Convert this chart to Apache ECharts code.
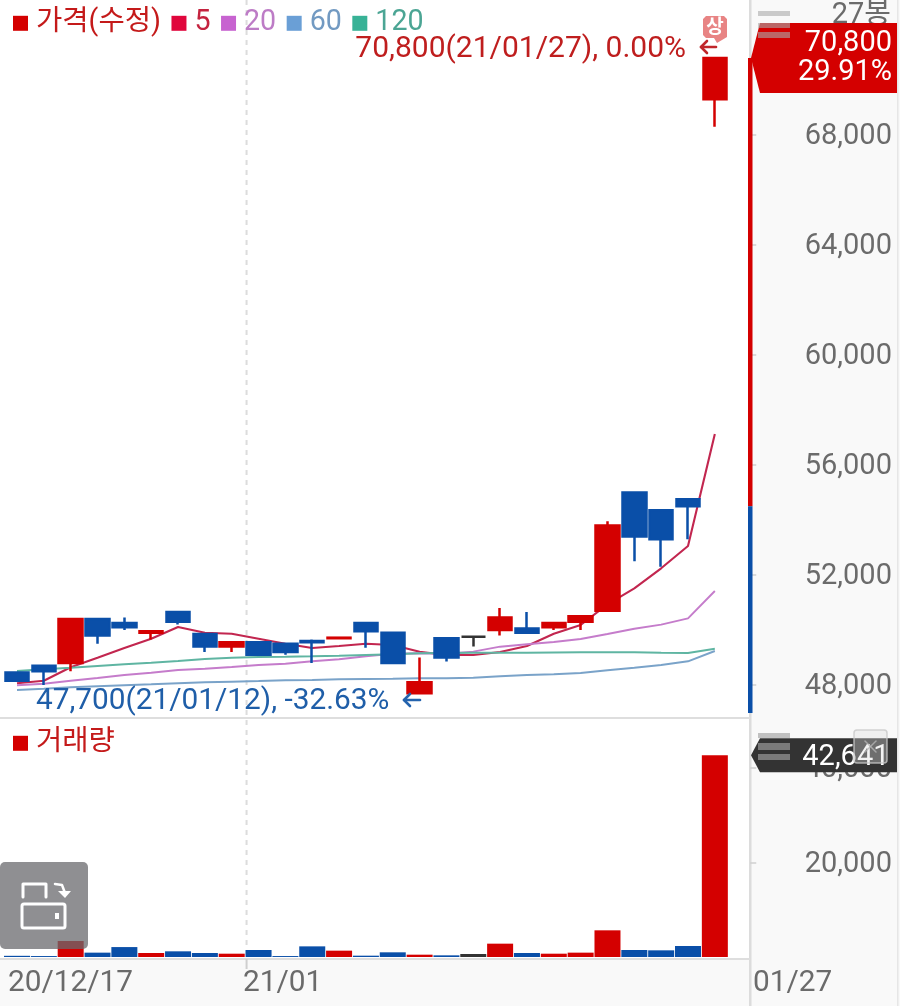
<!DOCTYPE html>
<html><head><meta charset="utf-8">
<style>html,body{margin:0;padding:0;background:#fff;overflow:hidden}#c{width:900px;height:1006px}</style>
<script src="https://cdn.jsdelivr.net/npm/echarts@6/dist/echarts.min.js"></script>
</head><body><div id="c"></div>
<script>
const categories=['20/12/17','20/12/18','20/12/21','20/12/22','20/12/23','20/12/24','20/12/28','20/12/29','20/12/30','21/01/04','21/01/05','21/01/06','21/01/07','21/01/08','21/01/11','21/01/12','21/01/13','21/01/14','21/01/15','21/01/18','21/01/19','21/01/20','21/01/21','21/01/22','21/01/25','21/01/26','21/01/27'];
const opens =[48450,48700,48800,50400,50250,49900,50650,49850,49400,49550,49500,49600,49700,50250,49900,47700,49700,49750,50000,50050,50100,50300,50700,55000,54350,54750,69300];
const closes=[48150,48500,50400,49800,50100,49950,50300,49400,49550,49100,49200,49550,49720,49950,48800,48100,49000,49750,50450,49900,50250,50500,53800,53400,53300,54500,70800];
const lows  =[48150,48000,48500,49500,50000,49650,50200,49200,49200,49050,49100,48800,49700,49350,48750,47700,48850,49400,49800,49900,50000,50000,50700,52500,52300,53300,68300];
const highs =[48450,48700,50400,50400,50450,49950,50650,49850,49550,49550,49500,49650,49720,50250,49900,49000,49700,49750,50800,50650,50250,50500,53950,55000,54350,54750,70800];
const ma5  =[48062,48156,48644,48993,49345,49683,50109,49902,49865,49683,49502,49345,49418,49502,49454,49211,49091,49091,49200,49418,49865,50182,50934,51516,52243,53054,57126];
const ma20 =[47989,48047,48156,48255,48364,48447,48545,48593,48654,48727,48774,48862,48934,49044,49138,49153,49138,49211,49393,49480,49563,49673,49854,50047,50193,50425,51418];
const ma60 =[47818,47865,47916,47953,47989,48025,48062,48098,48120,48145,48171,48182,48207,48218,48229,48244,48244,48265,48316,48364,48389,48436,48534,48629,48727,48862,49236];
const ma120=[48509,48571,48629,48691,48753,48811,48873,48945,48993,49018,49029,49044,49065,49091,49116,49153,49164,49175,49175,49175,49182,49189,49189,49189,49175,49164,49320];
const volumes=[250,200,3380,920,2100,850,1200,850,700,1480,200,2250,1340,280,990,490,350,630,2820,850,700,920,5640,1480,1410,2330,42641];
const priceTicks=[48000,52000,56000,60000,64000,68000];
const volumeTicks=[20000,40000];
const dateLabels=[['20/12/17',8],['21/01/04',243,'21/01'],['21/01/27',753,'01/27']];
const rangeBar=[70800,54500,46980];

const RED='#d40000',BLUE='#0a4fa8',DARK='#333333',GREY='#6b6b6b';
const FONT='Roboto,"Noto Sans CJK KR",sans-serif';
const fmt=v=>Number(v).toLocaleString('en-US');
const candle=categories.map((_,i)=>[opens[i],closes[i],lows[i],highs[i]]);
const volData=volumes.map((v,i)=>({value:v,itemStyle:{color:closes[i]>opens[i]?RED:closes[i]<opens[i]?BLUE:DARK}}));
const yAxisCommon={type:'value',position:'right',offset:22,splitLine:{show:false},axisLine:{show:false},
  axisLabel:{align:'right',verticalAlign:'top',lineHeight:4,margin:141.7,color:GREY,fontSize:29,fontFamily:FONT,formatter:fmt}};
const line=(name,data,color,w)=>({name,type:'line',data,xAxisIndex:0,yAxisIndex:0,symbol:'none',smooth:false,z:2,silent:true,lineStyle:{color,width:w}});
const legendText=(c)=>({color:c,fontSize:28.6,fontFamily:FONT,padding:[0,0,0,3]});
const option={
  animation:false,backgroundColor:'#ffffff',
  legend:[{left:13,top:9,itemWidth:15,itemHeight:15,itemGap:10.5,padding:0,selectedMode:false,
    data:[
      {name:'가격(수정)',icon:'rect',itemStyle:{color:RED,borderWidth:0},textStyle:legendText('#c41a1a')},
      {name:'5',icon:'rect',itemStyle:{color:'#e0063c'},textStyle:legendText('#c4233f')},
      {name:'20',icon:'rect',itemStyle:{color:'#c763d0'},textStyle:legendText('#bd7cc6')},
      {name:'60',icon:'rect',itemStyle:{color:'#6a9fd6'},textStyle:legendText('#729ac2')},
      {name:'120',icon:'rect',itemStyle:{color:'#38b296'},textStyle:legendText('#4ba594')}]},
    {left:13,top:729,itemWidth:15,itemHeight:15,padding:0,selectedMode:false,
     data:[{name:'거래량',icon:'rect',itemStyle:{color:RED},textStyle:legendText('#c41a1a')}]}],
  grid:[{left:3.58,width:724.68,top:1,height:716},{left:3.58,width:724.68,top:718,height:239}],
  xAxis:[{type:'category',gridIndex:0,data:categories,boundaryGap:true,axisLine:{show:false},axisTick:{show:false},axisLabel:{show:false}},
         {type:'category',gridIndex:1,data:categories,boundaryGap:true,axisLine:{show:false},axisTick:{show:false},axisLabel:{show:false}}],
  yAxis:[Object.assign({},yAxisCommon,{gridIndex:0,min:46836,max:72873,
           axisTick:{show:true,length:6,lineStyle:{color:'#cfcfcf',width:1.5},customValues:priceTicks},
           axisLabel:Object.assign({},yAxisCommon.axisLabel,{customValues:priceTicks})}),
         Object.assign({},yAxisCommon,{gridIndex:1,min:0,max:50528,
           axisTick:{show:true,length:6,lineStyle:{color:'#cfcfcf',width:1.5},customValues:volumeTicks},
           axisLabel:Object.assign({},yAxisCommon.axisLabel,{customValues:volumeTicks})})],
  series:[
    {name:'가격(수정)',type:'candlestick',data:candle,xAxisIndex:0,yAxisIndex:0,barWidth:24,z:3,silent:true,
     itemStyle:{color:RED,color0:BLUE,borderColor:RED,borderColor0:BLUE,borderColorDoji:DARK,borderWidth:2.5}},
    line('5',ma5,'#c2264f',2.1),line('20',ma20,'#c57ccb',1.9),line('60',ma60,'#7aa3c9',1.9),line('120',ma120,'#5fb5a2',1.9),
    {name:'거래량',type:'bar',data:volData,xAxisIndex:1,yAxisIndex:1,barWidth:26,silent:true}
  ]
};
const chart=echarts.init(document.getElementById('c'),null,{renderer:'canvas'});
chart.setOption(option);
const py=v=>chart.convertToPixel({yAxisIndex:0},v);
const vy=v=>chart.convertToPixel({yAxisIndex:1},v);
const cx=c=>chart.convertToPixel({xAxisIndex:0},c);
const rect=(x,y,w,h,fill,z,r)=>({type:'rect',shape:{x,y,width:w,height:h,r:r||0},style:{fill},z:z,silent:true});
const text=(x,y,t,o)=>({type:'text',x,y:y+2,z:o.z==null?30:o.z,silent:true,style:{text:t,fill:o.fill,font:(o.weight||'normal')+' '+(o.size||30)+'px '+FONT,textAlign:o.align||'left',textVerticalAlign:'middle',textBaseline:'middle'}});
const poly=(pts,stroke,w,z)=>({type:'polyline',shape:{points:pts},style:{stroke,lineWidth:w,fill:null,lineCap:'round',lineJoin:'round'},z,silent:true});
const polygon=(pts,fill,z)=>({type:'polygon',shape:{points:pts},style:{fill},z,silent:true});
const lastY=py(closes[26]),tagV=vy(volumes[26]),dashX=cx(categories[9])-12;
const pct=(closes[26]-closes[25])/closes[25]*100;
const el=[
  rect(750,0,150,1006,'#f9f9f9',-3),rect(0,959,750,47,'#f9f9f9',-3),
  rect(749,0,2.5,1006,'#dcdcdc',-2),rect(897,0,1.5,1006,'#e6e6e6',-2),
  rect(0,717,750,2,'#dedede',-2),rect(0,958,750,2,'#dedede',-2),
  {type:'line',shape:{x1:dashX,y1:0,x2:dashX,y2:958},style:{stroke:'#dcdcdc',lineWidth:2,lineDash:[5,5]},z:-1,silent:true},
  {type:'line',shape:{x1:dashX,y1:959,x2:dashX,y2:969},style:{stroke:'#cfcfcf',lineWidth:2},z:-1,silent:true},
  rect(748,py(rangeBar[0]),4.5,py(rangeBar[1])-py(rangeBar[0]),RED,5),
  rect(748,py(rangeBar[1]),4.5,py(rangeBar[2])-py(rangeBar[1]),BLUE,5),
  text(891,14,'27봉',{fill:GREY,size:29,align:'right',z:1}),
  polygon([[751,lastY],[760,lastY-35],[897,lastY-35],[897,lastY+35],[760,lastY+35]],RED,10),
  text(892,lastY-16,fmt(closes[26]),{fill:'#fff',size:29,align:'right',z:11}),
  text(892,lastY+13,pct.toFixed(2)+'%',{fill:'#fff',size:29,align:'right',z:11}),
  rect(758,11,32,5,'rgba(170,170,170,.6)',12),rect(758,23,32,5,'rgba(170,170,170,.6)',12),rect(758,32,32,6,'rgba(170,170,170,.6)',12),
  polygon([[751,tagV],[760,tagV-17],[897,tagV-17],[897,tagV+17],[760,tagV+17]],'#333333',10),
  text(889.5,tagV,fmt(volumes[26]),{fill:'#fff',size:29,align:'right',z:11}),
  rect(758,733,32,5,'rgba(170,170,170,.7)',12),rect(758,743,32,7,'rgba(170,170,170,.6)',12),rect(758,754,32,6,'rgba(170,170,170,.6)',12),
  {type:'rect',shape:{x:854,y:730,width:33,height:33,r:3},style:{fill:'rgba(220,220,220,.35)',stroke:'rgba(200,200,200,.8)',lineWidth:1.5},z:12,silent:true},
  poly([[865,741],[876,752]],'rgba(180,180,180,.8)',1.5,13),poly([[876,741],[865,752]],'rgba(180,180,180,.8)',1.5,13),
  text(686,47,fmt(closes[26])+'('+categories[26]+'), 0.00%',{fill:'#bf1e1e',align:'right'}),
  poly([[716,47],[701,47]],'#c0262a',2.6,31),poly([[707,41],[701,47],[707,53]],'#c0262a',2.6,31),
  polygon([[706,16],[724,16],[727,19],[727,37],[717,43],[714,38],[706,38],[703,35],[703,19]],'#e88484',20),
  text(715,26,'상',{fill:'#fff',size:19,align:'center',weight:'bold',z:21}),
  text(36,700,fmt(lows[15])+'('+categories[15]+'), -32.63%',{fill:'#1f5ea8',size:29.8}),
  poly([[420,700],[404,700]],'#2463ad',2.6,31),poly([[410,694],[404,700],[410,706]],'#2463ad',2.6,31),
  rect(0,862,88,87,'rgba(105,105,110,.75)',40,5),
  {type:'rect',shape:{x:22,y:904,width:43,height:24,r:2},style:{fill:null,stroke:'#fff',lineWidth:3},z:41,silent:true},
  rect(55,913,4,6,'#fff',41),
  poly([[23,897],[23,884],[46,884],[46,897]],'#fff',3,41),
  poly([[55,884],[62,885],[65,893]],'#fff',2.5,41),polygon([[58,891],[71,891],[65,898]],'#fff',41),
];
dateLabels.forEach(d=>el.push(text(d[1],982,d[2]||d[0],{fill:GREY,size:29.8})));
chart.setOption({graphic:{elements:el}});
</script></body></html>
